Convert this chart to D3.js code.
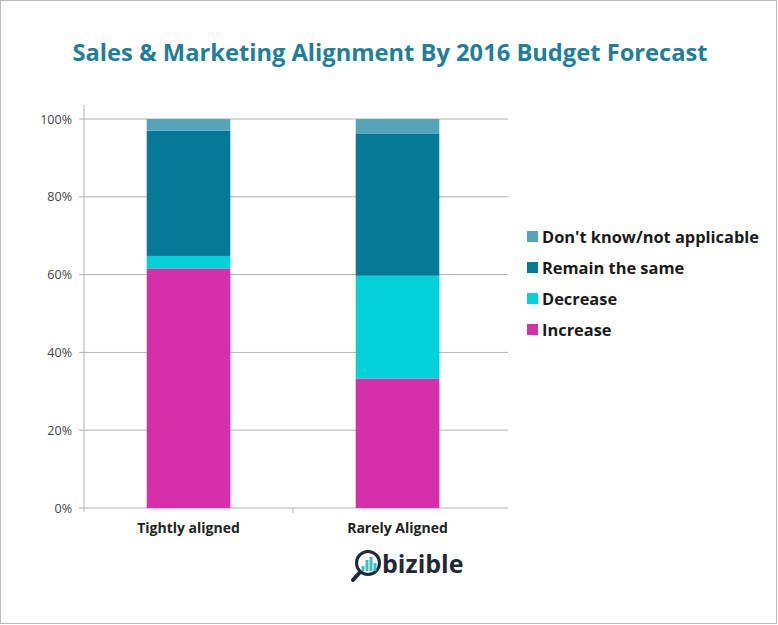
<!DOCTYPE html>
<html>
<head>
<meta charset="utf-8">
<script src="https://cdn.jsdelivr.net/npm/d3@7"></script>
<style>
  body { margin: 0; background: #fff; }
  text { font-family: 'Open Sans', sans-serif; }
</style>
</head>
<body>
<svg width="778" height="625"></svg>
<script>
const categories = ['Tightly aligned', 'Rarely Aligned'];
const seriesNames = ['Increase', 'Decrease', 'Remain the same', "Don't know/not applicable"];
const increase = [61.6, 33.3];
const decrease = [3.2, 26.4];
const remain = [32.2, 36.6];
const dontKnow = [3.0, 3.7];
const yTicks = [0, 20, 40, 60, 80, 100];

const colors = ['#d52fa9', '#00d2d8', '#047a98', '#55a4b9'];

const svg = d3.select('svg');
const margin = { left: 84, right: 276, top: 119, bottom: 117 };
const width = 778, height = 625;

svg.append('rect')
  .attr('x', 0.5).attr('y', 0.5)
  .attr('width', width - 2).attr('height', height - 2)
  .attr('fill', '#fff').attr('stroke', '#bbb');

svg.append('text')
  .attr('x', 390).attr('y', 61)
  .attr('text-anchor', 'middle')
  .attr('font-size', 23.7).attr('font-weight', 700)
  .attr('fill', '#1f7f98')
  .text('Sales & Marketing Alignment By 2016 Budget Forecast');

const rows = categories.map((c, i) => ({
  cat: c,
  'Increase': increase[i],
  'Decrease': decrease[i],
  'Remain the same': remain[i],
  "Don't know/not applicable": dontKnow[i]
}));

const stacked = d3.stack().keys(seriesNames)(rows);

const x = d3.scaleBand()
  .domain(categories)
  .range([margin.left, 502]);

const y = d3.scaleLinear()
  .domain([0, 100])
  .range([height - margin.bottom, margin.top]);

// grid
svg.append('g')
  .selectAll('line')
  .data(yTicks)
  .enter().append('line')
    .attr('x1', margin.left - 5).attr('x2', 508)
    .attr('y1', d => y(d)).attr('y2', d => y(d))
    .attr('stroke', '#b0b0b0').attr('stroke-width', 1);

svg.append('g')
  .selectAll('text')
  .data(yTicks)
  .enter().append('text')
    .attr('x', margin.left - 12)
    .attr('y', d => y(d) + 4.5)
    .attr('text-anchor', 'end')
    .attr('font-size', 12.5)
    .attr('fill', '#444')
    .text(d => d + '%');

svg.append('line')
  .attr('x1', margin.left).attr('x2', margin.left)
  .attr('y1', y(100) - 14).attr('y2', y(0) + 4)
  .attr('stroke', '#b0b0b0');

// category separator tick
svg.append('line')
  .attr('x1', x(categories[1])).attr('x2', x(categories[1]))
  .attr('y1', y(0)).attr('y2', y(0) + 5)
  .attr('stroke', '#b0b0b0');

const barW = x.bandwidth() * 0.4;

svg.append('g')
  .selectAll('g')
  .data(stacked)
  .enter().append('g')
    .attr('fill', (d, i) => colors[i])
  .selectAll('rect')
  .data(d => d)
  .enter().append('rect')
    .attr('x', d => x(d.data.cat) + x.bandwidth() * 0.3)
    .attr('width', barW)
    .attr('y', d => y(d[1]))
    .attr('height', d => y(d[0]) - y(d[1]));

svg.append('g')
  .selectAll('text')
  .data(categories)
  .enter().append('text')
    .attr('x', d => x(d) + x.bandwidth() / 2)
    .attr('y', y(0) + 25)
    .attr('text-anchor', 'middle')
    .attr('font-size', 14).attr('font-weight', 700)
    .attr('fill', '#222')
    .text(d => d);

// legend (reverse order)
const legendItems = seriesNames.map((s, i) => ({ s, c: colors[i] })).reverse();
const legend = svg.append('g')
  .selectAll('g')
  .data(legendItems)
  .enter().append('g')
    .attr('transform', (d, i) => 'translate(527,' + (237 + i * 31) + ')');
legend.append('rect')
  .attr('x', 0).attr('y', -6).attr('width', 11).attr('height', 11)
  .attr('fill', d => d.c);
legend.append('text')
  .attr('x', 15).attr('y', 5.5)
  .attr('font-size', 16.4).attr('font-weight', 700)
  .attr('fill', '#1a1a1a')
  .text(d => d.s);

// logo
const logo = svg.append('g').attr('transform', 'translate(368,563)');
logo.append('line')
  .attr('x1', -7).attr('y1', 8).attr('x2', -15).attr('y2', 17)
  .attr('stroke', '#1f2838').attr('stroke-width', 4).attr('stroke-linecap', 'round');
logo.append('circle')
  .attr('r', 11.5).attr('fill', '#fff')
  .attr('stroke', '#1f2838').attr('stroke-width', 3);
[[-5, 3], [-1, -3], [3, -6], [7, 0]].forEach(b => {
  logo.append('rect')
    .attr('x', b[0] - 1.5).attr('y', b[1]).attr('width', 3).attr('height', 8 - b[1])
    .attr('fill', '#3fbfbf');
});
svg.append('text')
  .attr('x', 382).attr('y', 573)
  .attr('font-size', 25).attr('font-weight', 700)
  .attr('fill', '#1f2838')
  .text('bizible');
</script>
</body>
</html>
